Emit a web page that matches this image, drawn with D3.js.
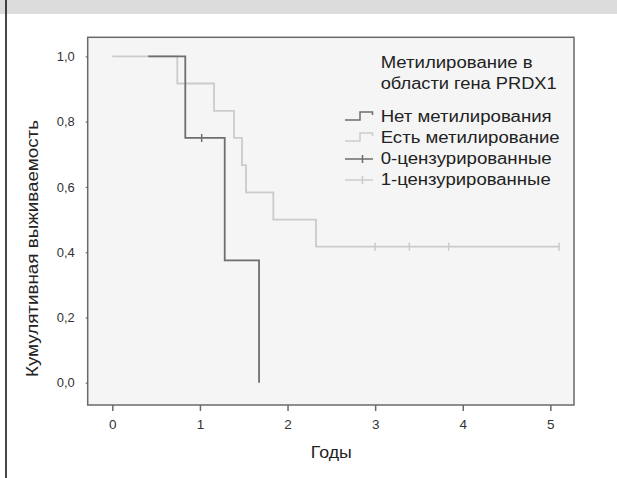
<!DOCTYPE html>
<html>
<head>
<meta charset="utf-8">
<script src="https://cdn.jsdelivr.net/npm/d3@7"></script>
<style>
  body { margin: 0; background: #fff; }
  svg { display: block; font-family: "Liberation Sans", Arial, sans-serif; }
</style>
</head>
<body>
<svg id="chart" width="617" height="478"></svg>
<script>
// ---- data ----
const xTicks = [0, 1, 2, 3, 4, 5];
const yTicks = [0, 0.2, 0.4, 0.6, 0.8, 1.0];
const yTickLabels = ["0,0", "0,2", "0,4", "0,6", "0,8", "1,0"];
const seriesNames = ["Нет метилирования", "Есть метилирование"];
const censorNames = ["0-цензурированные", "1-цензурированные"];
const legendTitle = ["Метилирование в", "области гена PRDX1"];
// group 0: no methylation — step times and survival after each step
const noMethStart = 0.41;
const noMethTimes = [0.833, 1.283, 1.675];
const noMethSurv = [0.75, 0.375, 0.0];
const noMethCensorT = [1.02];
const noMethCensorS = [0.75];
// group 1: methylation present
const methStart = 0.0;
const methTimes = [0.742, 1.161, 1.389, 1.48, 1.526, 1.838, 2.325];
const methSurv = [0.917, 0.833, 0.75, 0.667, 0.583, 0.5, 0.417];
const methEnd = 5.1;
const methCensorT = [3.0, 3.39, 3.84, 5.1];
const methCensorS = [0.417, 0.417, 0.417, 0.417];

const darkColor = "#6e6e6e";
const lightColor = "#cbcbcb";
const FONT = "Liberation Sans, Arial, sans-serif";

const svg = d3.select("#chart");
const W = 617, H = 478;

// outer frame
svg.append("rect").attr("x", 0).attr("y", 0).attr("width", W).attr("height", 14).attr("fill", "#dcdcdc");
svg.append("line").attr("x1", 6).attr("x2", 6).attr("y1", 0).attr("y2", H)
  .attr("stroke", "#1a1a1a").attr("stroke-width", 1.6);

// plot area
const L = 87.7, R = 574, T = 37.3, B = 405;
const x = d3.scaleLinear().domain([-0.281, 5.27]).range([L, R]);
const y = d3.scaleLinear().domain([-0.0683, 1.0585]).range([B, T]);

svg.append("rect").attr("x", L).attr("y", T).attr("width", R - L).attr("height", B - T)
  .attr("fill", "#f5f5f5").attr("stroke", "#6a6a6a").attr("stroke-width", 1.5);

// axes
const xAxis = d3.axisBottom(x).tickValues(xTicks).tickSize(6).tickPadding(8).tickFormat(d3.format("d"));
const gx = svg.append("g").attr("transform", `translate(0,${B})`).call(xAxis);
gx.select(".domain").remove();
gx.selectAll(".tick line").attr("stroke", "#6a6a6a").attr("stroke-width", 1.5);
gx.selectAll(".tick text").attr("fill", "#333").style("font-size", "13.5px").style("font-family", FONT);

const yAxis = d3.axisLeft(y).tickValues(yTicks).tickSize(2).tickPadding(11)
  .tickFormat((d, i) => yTickLabels[i]);
const gy = svg.append("g").attr("transform", `translate(${L},0)`).call(yAxis);
gy.select(".domain").remove();
gy.selectAll(".tick line").attr("stroke", "#6a6a6a").attr("stroke-width", 1.2);
gy.selectAll(".tick text").attr("fill", "#333").style("font-size", "13px").style("font-family", FONT)
  .attr("textLength", 18).attr("lengthAdjust", "spacingAndGlyphs");

// axis titles
svg.append("text").attr("x", x(2.5)).attr("y", 458).attr("text-anchor", "middle")
  .attr("fill", "#222").style("font-size", "16px")
  .attr("textLength", 41).attr("lengthAdjust", "spacingAndGlyphs").text("Годы");
svg.append("text").attr("transform", `translate(37.5,248.5) rotate(-90)`)
  .attr("text-anchor", "middle").attr("fill", "#222").style("font-size", "16px")
  .attr("textLength", 257).attr("lengthAdjust", "spacingAndGlyphs")
  .text("Кумулятивная выживаемость");

// step curves
function stepPoints(start, times, surv, end) {
  const pts = [[start, 1]];
  let s = 1;
  times.forEach((t, i) => { pts.push([t, s]); pts.push([t, surv[i]]); s = surv[i]; });
  if (end !== undefined) pts.push([end, s]);
  return pts;
}
const line = d3.line().x(d => x(d[0])).y(d => y(d[1]));

function drawCensors(ts, ss, color) {
  svg.append("g").selectAll("line").data(ts.map((t, i) => [t, ss[i]])).join("line")
    .attr("x1", d => x(d[0])).attr("x2", d => x(d[0]))
    .attr("y1", d => y(d[1]) - 4).attr("y2", d => y(d[1]) + 4)
    .attr("stroke", color).attr("stroke-width", 1.5);
}

svg.append("path").attr("d", line(stepPoints(methStart, methTimes, methSurv, methEnd)))
  .attr("fill", "none").attr("stroke", lightColor).attr("stroke-width", 1.8);
drawCensors(methCensorT, methCensorS, lightColor);

svg.append("path").attr("d", line(stepPoints(noMethStart, noMethTimes, noMethSurv)))
  .attr("fill", "none").attr("stroke", darkColor).attr("stroke-width", 1.8);
drawCensors(noMethCensorT, noMethCensorS, darkColor);

// legend
const lx = 380.7;
const titleWidths = [152, 176];
legendTitle.forEach((t, i) => {
  svg.append("text").attr("x", lx).attr("y", 68 + i * 20.5).attr("fill", "#222")
    .style("font-size", "16px")
    .attr("textLength", titleWidths[i]).attr("lengthAdjust", "spacingAndGlyphs").text(t);
});
const itemBase = [122, 143, 164, 185];
const itemWidths = [171, 179, 171, 170];
const itemColors = [darkColor, lightColor, darkColor, lightColor];
const itemLabels = seriesNames.concat(censorNames);
itemLabels.forEach((t, i) => {
  const by = itemBase[i];
  svg.append("text").attr("x", lx).attr("y", by).attr("fill", "#222")
    .style("font-size", "16px")
    .attr("textLength", itemWidths[i]).attr("lengthAdjust", "spacingAndGlyphs").text(t);
  const cy = by - 5;
  if (i < 2) {
    svg.append("path")
      .attr("d", `M345,${cy + 3}H360V${cy - 5}H372.5V${cy - 2}`)
      .attr("fill", "none").attr("stroke", itemColors[i]).attr("stroke-width", 1.5);
  } else {
    svg.append("path")
      .attr("d", `M345,${cy}H373M362.5,${cy - 4}V${cy + 4}`)
      .attr("fill", "none").attr("stroke", itemColors[i]).attr("stroke-width", 1.5);
  }
});
</script>
</body>
</html>
